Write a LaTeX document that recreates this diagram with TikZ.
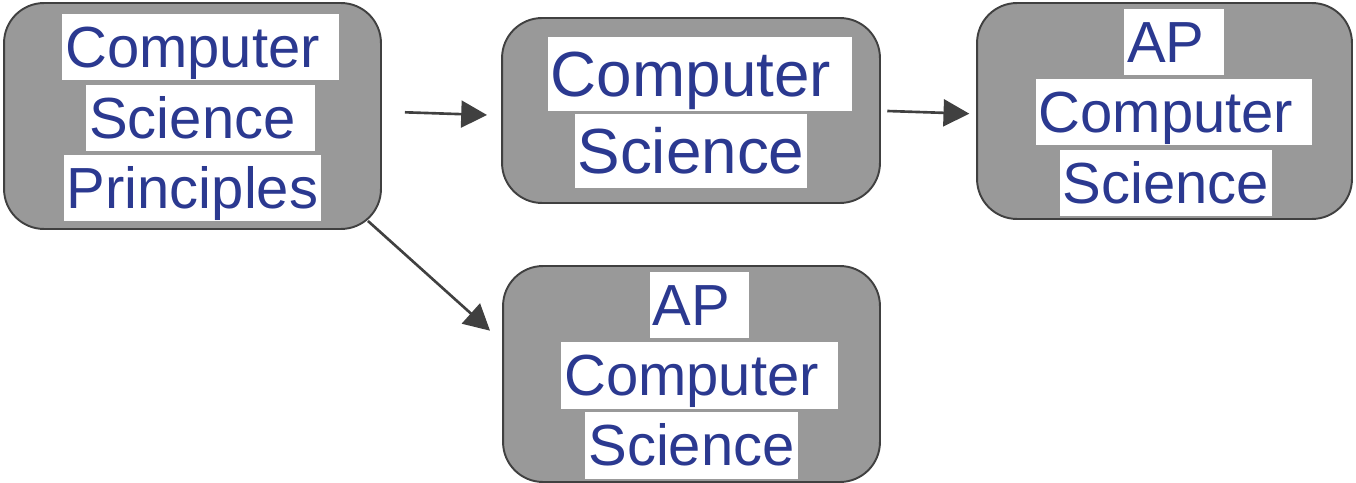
\documentclass[tikz,border=0pt]{standalone}
\usepackage{fontspec}
\setmainfont{Liberation Sans}
\usetikzlibrary{arrows.meta,calc}
\definecolor{boxfill}{RGB}{153,153,153}
\definecolor{boxedge}{RGB}{64,64,64}
\definecolor{txtblue}{RGB}{43,57,144}
\definecolor{arrcol}{RGB}{64,64,64}
\newcommand{\tsp}{\ \mbox{}}
\begin{document}
\begin{tikzpicture}[x=0.02cm,y=-0.02cm,
  box/.style={draw=boxedge, fill=boxfill, line width=1.1pt, rounded corners=0.8cm, outer sep=0pt, inner sep=0pt},
  lnS/.style={fill=white, text=txtblue, inner xsep=0.06cm, inner ysep=0.02cm,
     text height=29.9pt, text depth=7.0pt, font=\fontsize{33}{40}\selectfont},
  lnL/.style={fill=white, text=txtblue, inner xsep=0.06cm, inner ysep=0.02cm,
     text height=32.9pt, text depth=7.7pt, font=\fontsize{36.3}{44}\selectfont},
  conn/.style={draw=arrcol, line width=1.5pt, -{Triangle[length=14.7pt,width=15.3pt]}}]
\useasboundingbox (0,0) rectangle (1356,483);
% boxes
\node[box, minimum width=7.54cm, minimum height=4.52cm] (A) at (192.5,116) {};
\node[box, minimum width=7.56cm, minimum height=3.70cm] (B) at (691,110.5) {};
\node[box, minimum width=7.50cm, minimum height=4.32cm] (C) at (1164.5,111) {};
\node[box, minimum width=7.54cm, minimum height=4.32cm] (D) at (691.5,374) {};
% box A text
\node[lnS] (A1) at (200.5,47) {Computer\tsp};
\node[lnS] (A2) at (200.5,118) {Science\tsp};
\node[lnS] (A3) at (192.5,188) {Principles};
% box B text
\node[lnL] (B1) at (699.8,74) {Computer\tsp};
\node[lnL] (B2) at (691,151) {Science};
% box C text
\node[lnS] (C1) at (1174,42) {AP\tsp};
\node[lnS] (C2) at (1174,112) {Computer\tsp};
\node[lnS] (C3) at (1166,183) {Science};
% box D text
\node[lnS] (D1) at (699.5,305) {AP\tsp};
\node[lnS] (D2) at (699.5,375.5) {Computer\tsp};
\node[lnS] (D3) at (691.5,445.5) {Science};
% connectors
\draw[conn] ($(A.east)+(24,-3.7)$) -- ($(B.west)+(-15,4.5)$);
\draw[conn] ($(B.east)+(7.3,0.5)$) -- ($(C.west)+(-7.7,2.7)$);
\draw[conn] ($(A.south east)+(-13,-8)$) -- ($(D.west)+(-13,-43.3)$);
\end{tikzpicture}
\end{document}
